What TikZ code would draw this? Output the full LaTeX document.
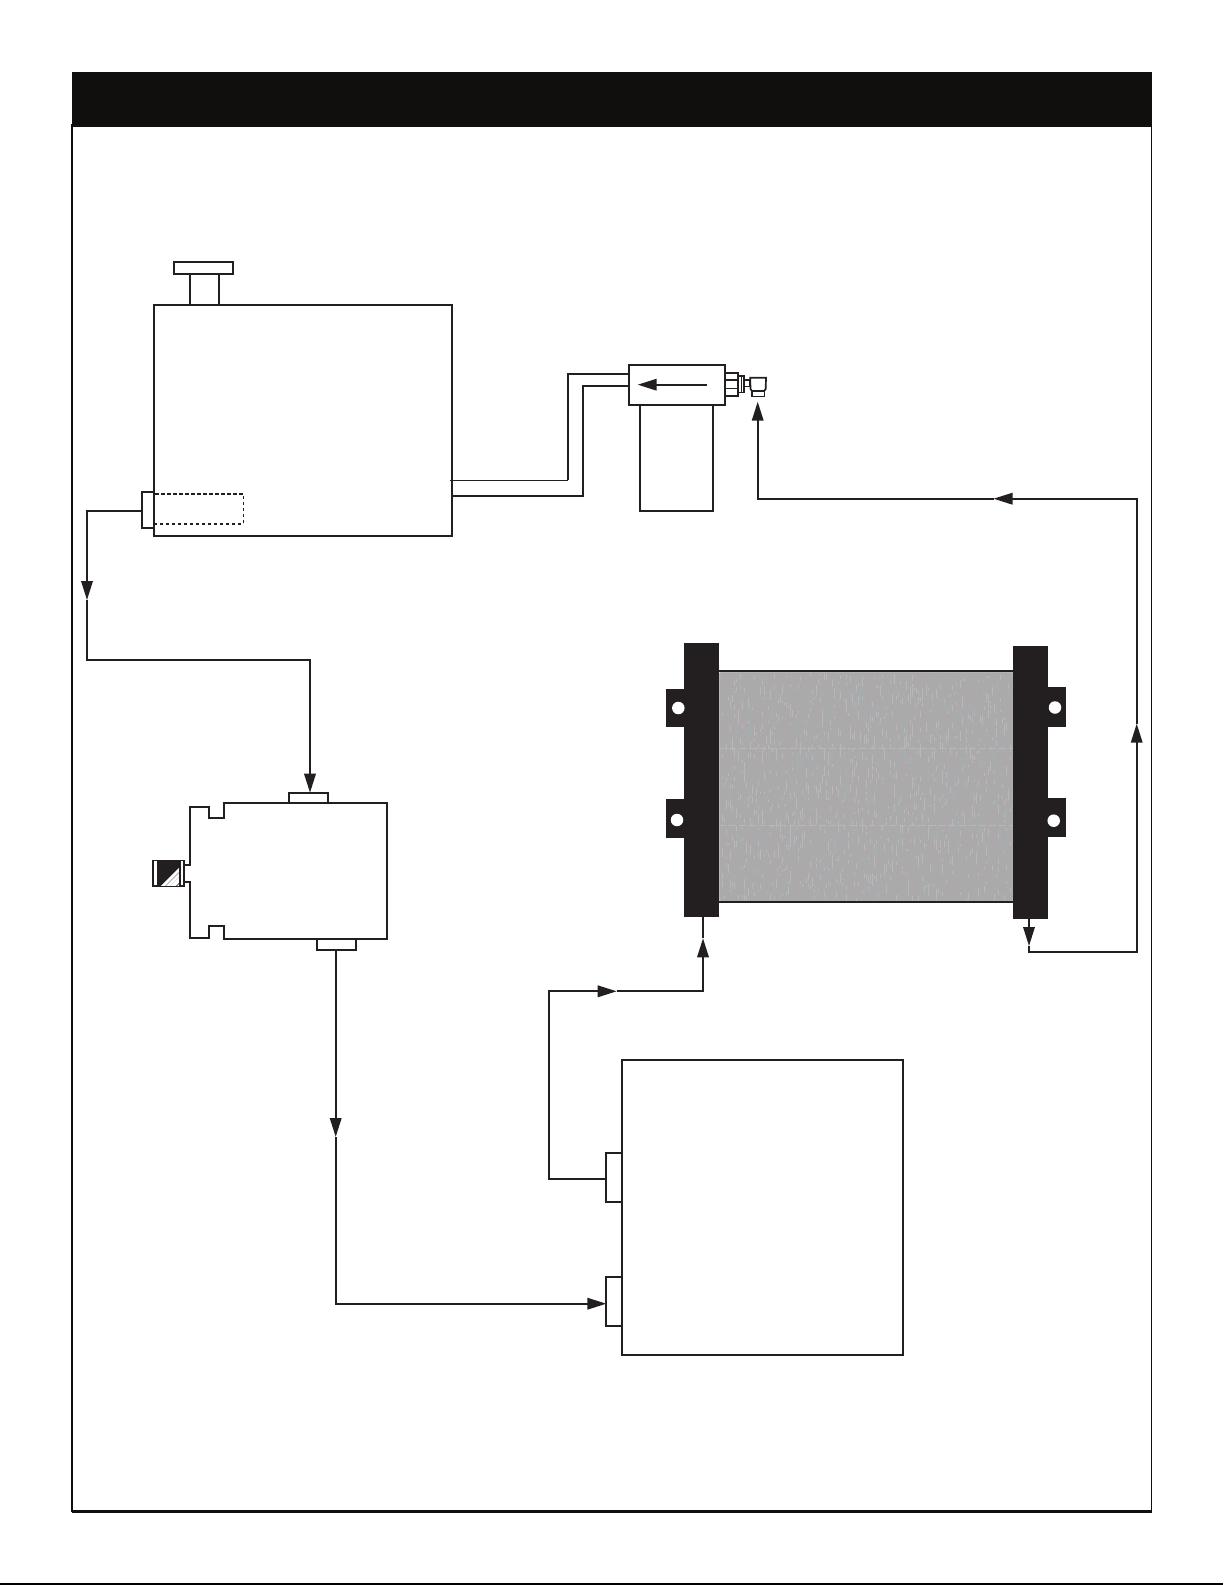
\documentclass[tikz,border=0pt]{standalone}
\usetikzlibrary{arrows.meta}
\definecolor{ink}{HTML}{231F20}
\definecolor{headerink}{HTML}{100F0D}
\definecolor{coregray}{HTML}{ABA9A9}
\definecolor{corelight}{HTML}{B9B8B8}
\definecolor{coreblue}{HTML}{A2B0B4}
\newcommand{\bx}[6][]{%
  \pgfmathsetmacro\bxcx{(#3+#5)/2}\pgfmathsetmacro\bxcy{(#4+#6)/2}%
  \pgfmathsetmacro\bxw{#5-#3}\pgfmathsetmacro\bxh{#6-#4}%
  \node[part,minimum width=\bxw pt,minimum height=\bxh pt,#1] (#2) at (\bxcx,\bxcy) {};}
\tikzset{
  part/.style={rectangle,draw=ink,fill=white,line width=2pt,inner sep=0pt,outer sep=0pt},
  solidpart/.style={draw=none,fill=ink},
  flow/.style={draw=ink,line width=1.8pt,line join=miter},
  flowtip/.style={flow,-{Triangle[length=19pt,width=11.5pt,sep=0pt]}},
  pipe/.style={draw=ink,line width=2pt},
  hole/.style={circle,fill=white,draw=none,minimum size=12.5pt,inner sep=0pt,outer sep=0pt},
}
\begin{document}
\begin{tikzpicture}[x=1pt,y=-1pt]
\useasboundingbox (0,0) rectangle (1225,1585);
\fill[white] (0,0) rectangle (1225,1585);

% page frame and header
\bx[line width=1.7pt,draw=headerink,fill=none]{frame}{72}{125}{1151.6}{1511.5}
\bx[draw=none,fill=headerink]{header}{71.5}{72}{1152}{127}
\draw[headerink,line width=2.6pt] (frame.south west) -- (frame.south east);
\draw[black,line width=1.5pt] (0,1584.2) -- (1223,1584.2);

% tank
\bx{tank}{154}{305.3}{451.8}{536}
\bx{neck}{190}{273.7}{219.3}{305.3}
\bx{cap}{173.7}{262}{233.3}{273.7}
\bx{tankport}{142}{491.7}{154}{528.3}
\bx[fill=none,dash pattern=on 3.4pt off 2.6pt,line width=1.5pt]{strainer}{154}{494}{243.3}{524}

% filter
\bx{bowl}{640}{405}{713}{511.3}
\bx{filterhead}{629.3}{365.3}{725}{405}
\bx[line width=1.6pt]{fitA}{725}{373}{738}{396}
\draw[ink,line width=1.4pt] (725,380) -- (738,380) (725,388.7) -- (738,388.7);
\bx[line width=1.6pt]{fitB}{738}{376}{744}{392.3}
\draw[ink,line width=1.3pt] (741.5,376) -- (741.5,392.3);
\bx[line width=1.3pt]{fitC}{744}{380}{750}{386.7}
\draw[ink,line width=1.7pt,fill=white] (750.2,377.7) -- (766,377.7) -- (765.7,389) -- (764,391) -- (752,391) -- (750.5,389) -- cycle;
\bx[line width=1.4pt]{elbowtip}{752}{391}{764.5}{396.5}

% pipes tank to filter
\coordinate (pipeAa) at (450,480.3);
\coordinate (pipeAb) at (568,480.3);
\coordinate (pipeAc) at (568,374);
\coordinate (pipeBa) at (451.8,496);
\coordinate (pipeBb) at (583,496);
\coordinate (pipeBc) at (583,385.7);
\draw[ink,line width=1.1pt] (pipeAa) -- (pipeAb);
\draw[pipe] (pipeAb) -- (pipeAc) -- (filterhead.west |- pipeAc);
\draw[pipe] (pipeBa) -- (pipeBb) -- (pipeBc) -- (filterhead.west |- pipeBc);
\coordinate (headarrowstart) at (706.7,384.7);
\coordinate (headarrowend) at (637.7,384.7);
\draw[flowtip] (headarrowstart) -- (headarrowend);

% pump
\draw[ink,line width=2pt,fill=white] (387.3,803.3) -- (224.3,803.3) -- (224.3,818) -- (209.3,818) -- (209.3,806.7)
  -- (189.7,806.7) -- (189.7,865) -- (184.3,865) -- (184.3,881.7) -- (189.7,881.7) -- (189.7,937.7) -- (209.3,937.7)
  -- (209.3,925.7) -- (224.3,925.7) -- (224.3,939) -- (387.3,939) -- cycle;
\bx{pumpin}{289}{792.7}{328.3}{803.3}
\bx{pumpout}{317}{939}{355.7}{950}
\bx[line width=1.8pt]{gear}{152.7}{860.5}{184.3}{886}
\begin{scope}
  \clip (157.5,861) rectangle (180.5,885.5);
  \fill[ink] (157.5,861) rectangle (180.5,885.5);
  \foreach \ofs/\wid in {2/3,7/3,12/4,18/2.5,23/4.5,29/2.5,34/3.5,39/3.5,44/3}
    \draw[white,line width=\wid pt] (157+\ofs,890) -- (157+\ofs+30,860);
\end{scope}
\draw[ink,line width=2.8pt] (158,860.5) -- (158,886);
\draw[ink,line width=1.6pt] (180.2,860.5) -- (180.2,886);

% receiver box
\bx{unit}{622}{1060}{902.6}{1355.3}
\bx{unitout}{606.3}{1153.3}{622}{1202}
\bx{unitin}{606.3}{1277.3}{622}{1326}

% radiator core
\begin{scope}
  \fill[coregray,rounded corners=3pt] (719,671.5) rectangle (1013.5,902);
  \clip[rounded corners=3pt] (719,671.5) rectangle (1013.5,902);
  \pgfmathsetseed{4217}
  \foreach \cx in {722,724,...,1010}{
    \foreach \k in {1,...,16}{
      \pgfmathsetmacro\sy{rnd*225+673}
      \pgfmathsetmacro\sl{rnd*rnd*12+2}
      \pgfmathparse{rnd<0.55?"coreblue":"corelight"}
      \edef\cc{\pgfmathresult}
      \fill[\cc] (\cx,\sy) rectangle (\cx+1,\sy+\sl);
    }
  }
  \draw[corelight,line width=0.8pt,dash pattern=on 7pt off 3pt] (719,748) -- (1013,748) (719,825) -- (1013,825);
  \draw[corelight,line width=2pt,rounded corners=3pt] (719,671.5) rectangle (1013.5,902);
\end{scope}
\draw[ink,line width=1.6pt] (719,671) -- (1013.3,671);
\draw[ink,line width=1.6pt] (719,902.2) -- (1013.3,902.2);

% radiator side bars
\bx[solidpart]{leftbar}{684.3}{643.3}{719}{916.7}
\bx[solidpart]{lefttabA}{666}{688.7}{685}{727.3}
\bx[solidpart]{lefttabB}{666}{799.3}{685}{838}
\node[hole] (leftholeA) at (678.3,708) {};
\node[hole] (leftholeB) at (677,820) {};
\bx[solidpart]{rightbar}{1013.3}{645.8}{1048}{919.3}
\bx[solidpart]{righttabA}{1047}{687.3}{1066}{726.7}
\bx[solidpart]{righttabB}{1047}{798.3}{1066}{837.3}
\node[hole] (rightholeA) at (1055,707.5) {};
\node[hole] (rightholeB) at (1053.7,820.7) {};

% flow route: tank -> pump
\coordinate (ta) at (tankport.west |- 0,510.7);
\coordinate (tb) at (87,510.7);
\coordinate (tc) at (87,600);
\coordinate (td) at (87,660);
\coordinate (te) at (310,660);
\draw[flowtip] (ta) -- (tb) -- (tc);
\draw[flowtip] (tc) -- (td) -- (te) -- (te |- pumpin.north);

% pump -> unit
\coordinate (pa) at (335.7,950);
\coordinate (pb) at (335.7,1137);
\coordinate (pc) at (335.7,1303.7);
\coordinate (pd) at (unitin.west |- 0,1303.7);
\draw[flowtip] (pa) -- (pb);
\draw[flowtip] (pb) -- (pc) -- (pd);

% unit -> radiator
\coordinate (ua) at (unitout.west |- 0,1178.7);
\coordinate (ub) at (549,1178.7);
\coordinate (uc) at (549,991.3);
\coordinate (ud) at (616.7,991.3);
\coordinate (ue) at (703,991.3);
\coordinate (uf) at (703,938.3);
\draw[flowtip] (ua) -- (ub) -- (uc) -- (ud);
\draw[flowtip] (ud) -- (ue) -- (uf);
\draw[flow] (uf) -- (uf |- leftbar.south);

% radiator -> filter
\coordinate (ra) at (1029,919);
\coordinate (rb) at (1029,946);
\coordinate (rc) at (1029,952.3);
\coordinate (rd) at (1136.7,952.3);
\coordinate (re) at (1136.7,723.7);
\coordinate (rf) at (1136.7,498.7);
\coordinate (rg) at (993.5,498.7);
\coordinate (rh) at (757.7,498.7);
\coordinate (ri) at (757.7,401.7);
\draw[flowtip] (ra) -- (rb);
\draw[flowtip] (rb) -- (rc) -- (rd) -- (re);
\draw[flowtip] (re) -- (rf) -- (rg);
\draw[flowtip] (rg) -- (rh) -- (ri);
\end{tikzpicture}
\end{document}
